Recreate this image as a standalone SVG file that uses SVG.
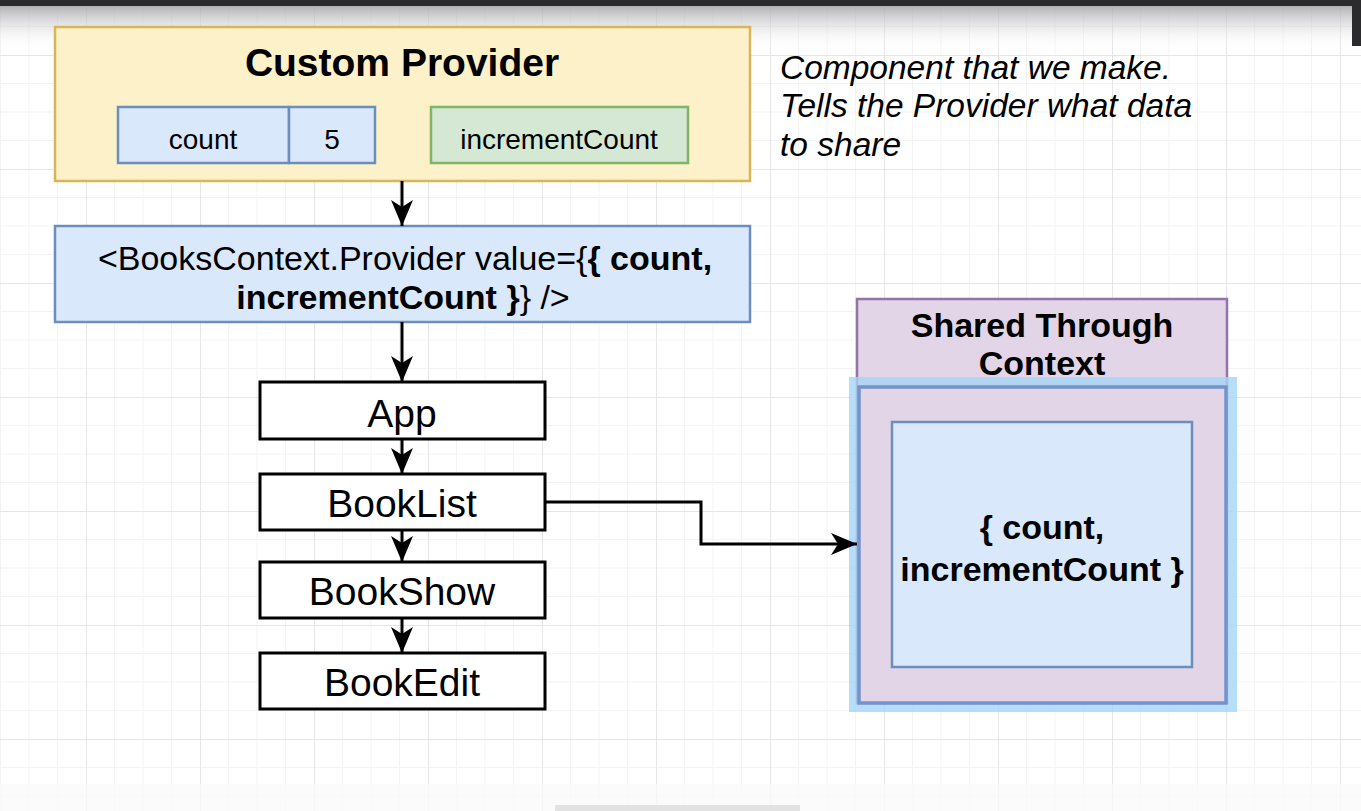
<svg xmlns="http://www.w3.org/2000/svg" width="1361" height="811" viewBox="0 0 1361 811">
<defs>
<style>
text{font-family:"Liberation Sans",Arial,Helvetica,sans-serif;fill:#000}
.b{font-weight:bold}
.lbl{font-size:39px;text-anchor:middle}
.box{fill:#fff;stroke:#000;stroke-width:3}
.blue{fill:#dae8fc;stroke:#6c8ebf;stroke-width:2.5}
.conn{fill:none;stroke:#000;stroke-width:3}
</style>
<pattern id="grid" patternUnits="userSpaceOnUse" x="86" y="55" width="114" height="114">
<path d="M28.5 0V114M57 0V114M85.5 0V114M0 28.5H114M0 57H114M0 85.5H114" stroke="#f3f3f3" stroke-width="1" fill="none"/>
<path d="M0.5 0V114M0 0.5H114" stroke="#e6e6e6" stroke-width="1" fill="none"/>
</pattern>
<linearGradient id="tb" x1="0" y1="0" x2="0" y2="1">
<stop offset="0" stop-color="#a9a9ad" stop-opacity="0.9"/>
<stop offset="1" stop-color="#ffffff" stop-opacity="0"/>
</linearGradient>
<marker id="arr" markerUnits="userSpaceOnUse" markerWidth="28" markerHeight="24" refX="26" refY="12" orient="auto">
<path d="M0 1L26 12L0 23L7 12Z" fill="#000"/>
</marker>
</defs>
<rect width="1361" height="811" fill="#fff"/>
<rect width="1361" height="811" fill="url(#grid)"/>
<rect x="0" y="6" width="1361" height="44" fill="url(#tb)"/>
<rect x="0" y="0" width="1361" height="6" fill="#2b2b2e"/>
<rect x="1352" y="0" width="9" height="46" fill="#2b2b2e"/>
<rect x="0" y="784" width="1361" height="27" fill="#fafafa" opacity="0.8"/>
<rect x="555" y="805" width="245" height="6" fill="#e2e2e2"/>

<g id="custom-provider">
<rect x="55" y="27" width="695" height="154" fill="#fcf1c8" stroke="#d6b656" stroke-width="2.5"/>
<text x="402" y="76" class="b" font-size="39" text-anchor="middle">Custom Provider</text>
</g>
<g id="count">
<rect x="118" y="107" width="171" height="56" class="blue"/>
<text x="203" y="149" font-size="28" text-anchor="middle">count</text>
</g>
<g id="count-value">
<rect x="289" y="107" width="86" height="56" class="blue"/>
<text x="332" y="149" font-size="28" text-anchor="middle">5</text>
</g>
<g id="increment-count">
<rect x="431" y="107" width="257" height="56" fill="#d5e8d4" stroke="#82b366" stroke-width="2.5"/>
<text x="559" y="149" font-size="28" text-anchor="middle">incrementCount</text>
</g>

<g id="books-context-provider">
<rect x="55" y="226" width="695" height="96" class="blue"/>
<text x="405" y="270" font-size="34" text-anchor="middle">&lt;BooksContext.Provider value={<tspan class="b">{ count,</tspan></text>
<text x="403" y="309" font-size="34" text-anchor="middle"><tspan class="b">incrementCount }</tspan>} /&gt;</text>
</g>

<g id="app">
<rect x="260" y="382" width="285" height="57" class="box"/>
<text x="402" y="427" class="lbl">App</text>
</g>
<g id="booklist">
<rect x="260" y="474" width="285" height="56" class="box"/>
<text x="402" y="517" class="lbl">BookList</text>
</g>
<g id="bookshow">
<rect x="260" y="562" width="285" height="56" class="box"/>
<text x="402" y="605" class="lbl">BookShow</text>
</g>
<g id="bookedit">
<rect x="260" y="653" width="285" height="56" class="box"/>
<text x="402" y="696" class="lbl">BookEdit</text>
</g>

<g id="note">
<text font-size="33.5" font-style="italic">
<tspan x="780" y="79">Component that we make.</tspan>
<tspan x="780" y="117">Tells the Provider what data</tspan>
<tspan x="780" y="156">to share</tspan>
</text>
</g>

<g id="shared-through-context">
<rect x="857" y="299" width="370" height="404" fill="#e1d5e7" stroke="#9673a6" stroke-width="2.5"/>
<text x="1042" y="337" class="b" font-size="34" text-anchor="middle">Shared Through</text>
<text x="1042" y="375" class="b" font-size="34" text-anchor="middle">Context</text>
<rect x="849" y="377" width="388" height="335" fill="#a6d4f7" opacity="0.8"/>
<rect x="859" y="387" width="367" height="316" fill="#e1d5e7" stroke="#7393cc" stroke-width="3.5"/>
</g>
<g id="shared-value">
<rect x="892" y="422" width="300" height="245" class="blue"/>
<text x="1042" y="539" class="b" font-size="34" text-anchor="middle">{ count,</text>
<text x="1042" y="581" class="b" font-size="34" text-anchor="middle">incrementCount }</text>
</g>

<g id="connectors">
<path d="M402 181V226" class="conn" marker-end="url(#arr)"/>
<path d="M402 322V382" class="conn" marker-end="url(#arr)"/>
<path d="M402 439V474" class="conn" marker-end="url(#arr)"/>
<path d="M402 530V562" class="conn" marker-end="url(#arr)"/>
<path d="M402 618V653" class="conn" marker-end="url(#arr)"/>
<path d="M545 502H701V544H857" class="conn" marker-end="url(#arr)"/>
</g>
</svg>
